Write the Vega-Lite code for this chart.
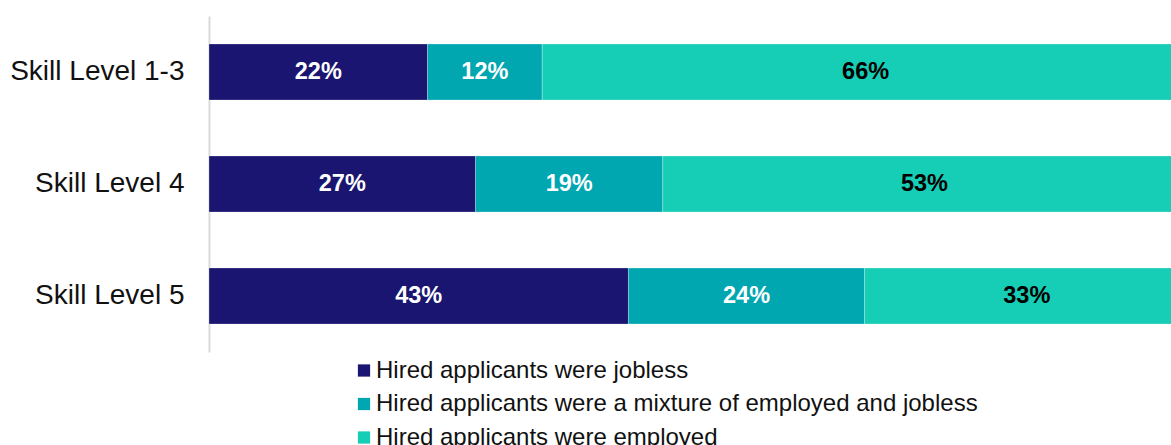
{
  "$schema": "https://vega.github.io/schema/vega-lite/v6.json",
  "autosize": "none",
  "width": 980,
  "height": 336,
  "padding": {"left": 209, "top": 16, "right": 0, "bottom": 93},
  "background": "white",
  "config": {"view": {"stroke": null}, "font": "Liberation Sans"},
  "data": {
    "values": [
      {"level": "Skill Level 1-3", "type": "Hired applicants were jobless", "order": 1, "share": 0.223},
      {"level": "Skill Level 1-3", "type": "Hired applicants were a mixture of employed and jobless", "order": 2, "share": 0.117},
      {"level": "Skill Level 1-3", "type": "Hired applicants were employed", "order": 3, "share": 0.66},
      {"level": "Skill Level 4", "type": "Hired applicants were jobless", "order": 1, "share": 0.272},
      {"level": "Skill Level 4", "type": "Hired applicants were a mixture of employed and jobless", "order": 2, "share": 0.191},
      {"level": "Skill Level 4", "type": "Hired applicants were employed", "order": 3, "share": 0.534},
      {"level": "Skill Level 5", "type": "Hired applicants were jobless", "order": 1, "share": 0.428},
      {"level": "Skill Level 5", "type": "Hired applicants were a mixture of employed and jobless", "order": 2, "share": 0.241},
      {"level": "Skill Level 5", "type": "Hired applicants were employed", "order": 3, "share": 0.331}
    ]
  },
  "transform": [
    {"stack": "share", "groupby": ["level"], "sort": [{"field": "order"}], "as": ["x0", "x1"]},
    {"calculate": "(datum.x0 + datum.x1) / 2", "as": "xmid"}
  ],
  "encoding": {
    "y": {
      "field": "level", "type": "nominal", "title": null,
      "sort": ["Skill Level 1-3", "Skill Level 4", "Skill Level 5"],
      "scale": {"paddingInner": 0.5, "paddingOuter": 0.25},
      "axis": {"ticks": false, "labelFontSize": 28, "labelColor": "#111111", "labelPadding": 25, "domainColor": "#d9d9d9", "domainWidth": 2, "labelFont": "Liberation Sans"}
    }
  },
  "layer": [
    {
      "mark": {"type": "bar", "stroke": "#ffffff", "strokeWidth": 0.5, "strokeOpacity": 0.5},
      "encoding": {
        "x": {"field": "x0", "type": "quantitative", "scale": {"domain": [0, 1], "nice": false}, "axis": null},
        "x2": {"field": "x1"},
        "color": {
          "field": "type", "type": "nominal",
          "scale": {
            "domain": ["Hired applicants were jobless", "Hired applicants were a mixture of employed and jobless", "Hired applicants were employed"],
            "range": ["#1a1570", "#00a6b0", "#16ceb6"]
          },
          "legend": {
            "title": null, "orient": "none", "direction": "vertical",
            "legendX": 143, "legendY": 342.5,
            "symbolType": "square", "symbolSize": 150, "symbolStrokeWidth": 0,
            "labelFontSize": 24, "labelColor": "#111111", "labelFont": "Liberation Sans",
            "rowPadding": 9.5, "labelOffset": 0, "labelLimit": 800
          }
        }
      }
    },
    {
      "mark": {"type": "text", "fontSize": 23.5, "fontWeight": "bold", "font": "Liberation Sans"},
      "encoding": {
        "x": {"field": "xmid", "type": "quantitative"},
        "text": {"field": "share", "type": "quantitative", "format": ".0%"},
        "color": {
          "condition": {"test": "datum.order === 3", "value": "#000000"},
          "value": "#ffffff"
        }
      }
    }
  ]
}
